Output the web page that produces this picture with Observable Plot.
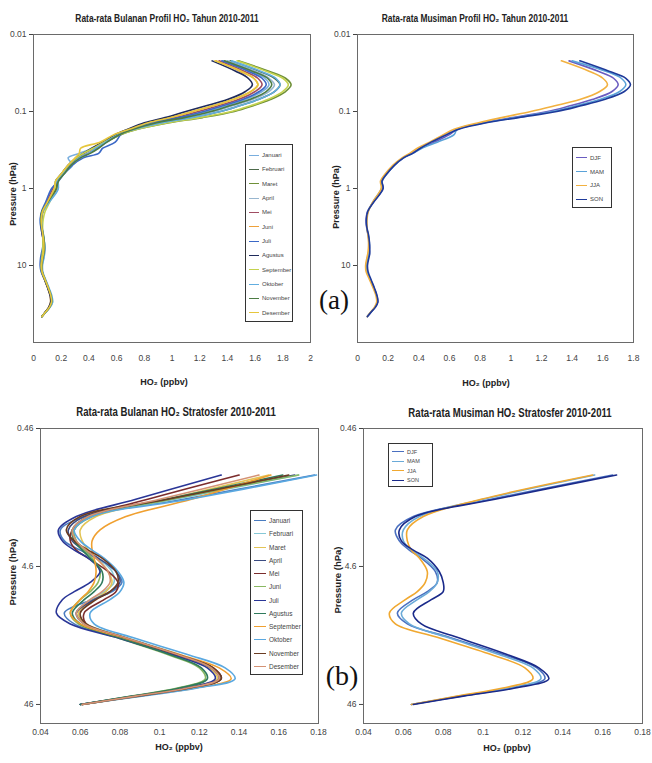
<!DOCTYPE html>
<html>
<head>
<meta charset="utf-8">
<script src="https://cdn.jsdelivr.net/npm/d3@7"></script>
<script src="https://cdn.jsdelivr.net/npm/@observablehq/plot@0.6"></script>
<style>
  html, body { margin: 0; padding: 0; background: #fff; }
  #root { position: relative; width: 652px; height: 763px; background: #fff; overflow: hidden; }
  .t { position: absolute; white-space: nowrap; color: #222; }
  .narrow { font-family: 'Liberation Sans Narrow', 'Arial Narrow', 'Liberation Sans', Arial, sans-serif; }
</style>
</head>
<body>
<div id="root"></div>
<script>
// ---------------- DATA ----------------
const MONTHS = ["Januari","Februari","Maret","April","Mei","Juni","Juli","Agustus","September","Oktober","November","Desember"];
const SEASONS = ["DJF","MAM","JJA","SON"];

// pressure levels (hPa)
const LEV_UPPER = [0.022, 0.03, 0.037, 0.045, 0.055, 0.07, 0.085, 0.1, 0.12, 0.14, 0.17, 0.2, 0.25, 0.3, 0.35, 0.4, 0.5, 0.65, 0.8];
const LEV_STRAT = [1, 1.5, 2, 2.5, 3, 3.5, 4, 5, 6, 7, 8, 10, 12, 15, 20, 25, 30, 35, 40, 46];

// monthly HO2 (ppbv), upper levels (0.022 - 0.8 hPa)
const JAN_UP = [1.37, 1.56, 1.67, 1.70, 1.65, 1.53, 1.39, 1.25, 1.07, 0.88, 0.71, 0.60, 0.51, 0.43, 0.33, 0.25, 0.28, 0.21, 0.18];
const FEB_UP = [1.42, 1.63, 1.74, 1.78, 1.74, 1.62, 1.48, 1.35, 1.14, 0.93, 0.73, 0.62, 0.52, 0.44, 0.37, 0.32, 0.26, 0.21, 0.17];
const MAR_UP = [1.48, 1.70, 1.82, 1.86, 1.82, 1.71, 1.58, 1.45, 1.22, 0.98, 0.75, 0.63, 0.52, 0.44, 0.37, 0.32, 0.26, 0.21, 0.17];
const APR_UP = [1.40, 1.60, 1.70, 1.74, 1.70, 1.58, 1.43, 1.30, 1.10, 0.90, 0.72, 0.61, 0.53, 0.45, 0.38, 0.32, 0.26, 0.21, 0.17];
const MEI_UP = [1.34, 1.52, 1.62, 1.65, 1.60, 1.48, 1.33, 1.19, 1.02, 0.84, 0.70, 0.60, 0.52, 0.46, 0.40, 0.33, 0.27, 0.21, 0.17];
const JUN_UP = [1.32, 1.49, 1.59, 1.62, 1.57, 1.44, 1.29, 1.15, 0.99, 0.83, 0.69, 0.59, 0.50, 0.43, 0.36, 0.31, 0.25, 0.20, 0.17];
const JUL_UP = [1.36, 1.55, 1.65, 1.68, 1.63, 1.51, 1.36, 1.23, 1.05, 0.86, 0.70, 0.63, 0.59, 0.50, 0.47, 0.36, 0.28, 0.22, 0.18];
const AGU_UP = [1.29, 1.46, 1.55, 1.58, 1.53, 1.40, 1.24, 1.10, 0.95, 0.80, 0.68, 0.59, 0.50, 0.42, 0.36, 0.31, 0.25, 0.20, 0.16];
const SEP_UP = [1.47, 1.68, 1.80, 1.84, 1.80, 1.69, 1.56, 1.43, 1.20, 0.97, 0.75, 0.62, 0.51, 0.43, 0.36, 0.31, 0.25, 0.20, 0.16];
const OKT_UP = [1.43, 1.64, 1.75, 1.78, 1.74, 1.62, 1.48, 1.35, 1.14, 0.93, 0.73, 0.61, 0.52, 0.45, 0.40, 0.33, 0.27, 0.21, 0.17];
const NOV_UP = [1.38, 1.58, 1.69, 1.72, 1.68, 1.56, 1.41, 1.28, 1.09, 0.89, 0.72, 0.62, 0.53, 0.47, 0.41, 0.34, 0.27, 0.22, 0.18];
const DES_UP = [1.31, 1.50, 1.59, 1.62, 1.57, 1.44, 1.29, 1.15, 0.99, 0.83, 0.69, 0.58, 0.48, 0.34, 0.33, 0.30, 0.25, 0.20, 0.16];

// monthly HO2 (ppbv), stratosphere (1 - 46 hPa)
const JAN_ST = [0.178, 0.112, 0.062, 0.050, 0.052, 0.060, 0.068, 0.078, 0.081, 0.076, 0.066, 0.052, 0.057, 0.080, 0.109, 0.126, 0.130, 0.114, 0.088, 0.060];
const FEB_ST = [0.170, 0.108, 0.066, 0.057, 0.058, 0.063, 0.069, 0.076, 0.077, 0.072, 0.065, 0.058, 0.063, 0.083, 0.110, 0.127, 0.131, 0.115, 0.089, 0.061];
const MAR_ST = [0.155, 0.104, 0.068, 0.060, 0.061, 0.064, 0.068, 0.074, 0.076, 0.073, 0.067, 0.059, 0.063, 0.082, 0.108, 0.125, 0.129, 0.113, 0.088, 0.061];
const APR_ST = [0.168, 0.105, 0.062, 0.054, 0.056, 0.062, 0.069, 0.078, 0.080, 0.075, 0.067, 0.058, 0.062, 0.081, 0.108, 0.126, 0.130, 0.114, 0.088, 0.060];
const MEI_ST = [0.140, 0.094, 0.064, 0.056, 0.055, 0.058, 0.064, 0.074, 0.079, 0.078, 0.072, 0.062, 0.063, 0.081, 0.108, 0.127, 0.131, 0.115, 0.089, 0.061];
const JUN_ST = [0.170, 0.106, 0.066, 0.057, 0.058, 0.062, 0.066, 0.070, 0.069, 0.065, 0.060, 0.055, 0.059, 0.078, 0.104, 0.120, 0.123, 0.109, 0.086, 0.060];
const JUL_ST = [0.131, 0.088, 0.058, 0.049, 0.051, 0.057, 0.064, 0.070, 0.065, 0.057, 0.051, 0.048, 0.055, 0.078, 0.106, 0.124, 0.128, 0.113, 0.087, 0.060];
const AGU_ST = [0.162, 0.103, 0.064, 0.056, 0.057, 0.061, 0.065, 0.071, 0.071, 0.067, 0.062, 0.056, 0.060, 0.079, 0.105, 0.121, 0.124, 0.110, 0.086, 0.060];
const SEP_ST = [0.156, 0.116, 0.083, 0.070, 0.066, 0.066, 0.067, 0.068, 0.067, 0.064, 0.060, 0.055, 0.060, 0.081, 0.110, 0.130, 0.136, 0.118, 0.090, 0.061];
const OKT_ST = [0.179, 0.115, 0.066, 0.057, 0.060, 0.066, 0.072, 0.079, 0.082, 0.080, 0.075, 0.065, 0.067, 0.086, 0.114, 0.133, 0.138, 0.119, 0.091, 0.061];
const NOV_ST = [0.165, 0.104, 0.060, 0.053, 0.057, 0.064, 0.071, 0.078, 0.079, 0.075, 0.068, 0.060, 0.063, 0.082, 0.109, 0.127, 0.131, 0.115, 0.089, 0.061];
const DES_ST = [0.150, 0.100, 0.064, 0.056, 0.058, 0.063, 0.068, 0.074, 0.075, 0.071, 0.065, 0.058, 0.062, 0.082, 0.109, 0.126, 0.130, 0.114, 0.088, 0.061];

// seasonal HO2 (ppbv), upper levels
const DJF_UP = [1.38, 1.57, 1.67, 1.70, 1.66, 1.53, 1.38, 1.24, 1.01, 0.82, 0.65, 0.60, 0.50, 0.41, 0.35, 0.30, 0.24, 0.19, 0.16];
const MAM_UP = [1.40, 1.62, 1.72, 1.75, 1.71, 1.58, 1.42, 1.27, 1.03, 0.83, 0.65, 0.63, 0.52, 0.42, 0.36, 0.30, 0.24, 0.19, 0.16];
const JJA_UP = [1.33, 1.51, 1.60, 1.63, 1.58, 1.45, 1.28, 1.13, 0.94, 0.79, 0.63, 0.56, 0.47, 0.39, 0.34, 0.29, 0.23, 0.18, 0.15];
const SON_UP = [1.45, 1.64, 1.75, 1.78, 1.74, 1.61, 1.45, 1.30, 1.05, 0.84, 0.66, 0.58, 0.48, 0.41, 0.36, 0.30, 0.24, 0.19, 0.16];

// seasonal HO2 (ppbv), stratosphere
const DJF_ST = [0.165, 0.104, 0.065, 0.056, 0.058, 0.063, 0.069, 0.076, 0.077, 0.072, 0.065, 0.057, 0.062, 0.083, 0.110, 0.127, 0.131, 0.114, 0.089, 0.064];
const MAM_ST = [0.156, 0.100, 0.068, 0.060, 0.060, 0.064, 0.070, 0.077, 0.077, 0.073, 0.067, 0.059, 0.063, 0.082, 0.108, 0.125, 0.129, 0.113, 0.088, 0.064];
const JJA_ST = [0.155, 0.099, 0.070, 0.062, 0.062, 0.064, 0.068, 0.072, 0.071, 0.067, 0.061, 0.053, 0.056, 0.077, 0.104, 0.121, 0.125, 0.110, 0.087, 0.064];
const SON_ST = [0.167, 0.106, 0.066, 0.058, 0.059, 0.065, 0.072, 0.078, 0.080, 0.080, 0.074, 0.065, 0.069, 0.087, 0.112, 0.128, 0.133, 0.116, 0.090, 0.065];

// tick values
const XT_A1 = [0, 0.2, 0.4, 0.6, 0.8, 1, 1.2, 1.4, 1.6, 1.8, 2];
const XT_A2 = [0, 0.2, 0.4, 0.6, 0.8, 1, 1.2, 1.4, 1.6, 1.8];
const YT_A = [0.01, 0.1, 1, 10];
const XT_B = [0.04, 0.06, 0.08, 0.1, 0.12, 0.14, 0.16, 0.18];
const YT_B = [0.46, 4.6, 46];

// titles
const TITLES = [
  "Rata-rata Bulanan Profil HO₂ Tahun 2010-2011",
  "Rata-rata Musiman Profil HO₂ Tahun 2010-2011",
  "Rata-rata Bulanan HO₂ Stratosfer 2010-2011",
  "Rata-rata Musiman HO₂ Stratosfer 2010-2011"
];

// colours
const COL_A_MONTH = ["#79aede","#4d6a4a","#6f9038","#98b6cf","#a04d62","#eea13a","#3b68c6","#1f2b5c","#c4d24e","#62aee0","#4c7c44","#e6c63c"];
const COL_B_MONTH = ["#4a7cc0","#86c8d6","#e3c455","#3b4b82","#7b2c2c","#8ab862","#2a3697","#2f7a5c","#f0a030","#5aa8e0","#6a3c22","#d49274"];
const COL_SEASON_A = ["#6a5cc0","#5aa2d8","#f2b140","#1e3a9a"];
const COL_SEASON_B = ["#4a70c0","#6aaad8","#f0a830","#1a2a8a"];

// ---------------- BUILD ----------------
const MONTH_UP = [JAN_UP,FEB_UP,MAR_UP,APR_UP,MEI_UP,JUN_UP,JUL_UP,AGU_UP,SEP_UP,OKT_UP,NOV_UP,DES_UP];
const MONTH_ST = [JAN_ST,FEB_ST,MAR_ST,APR_ST,MEI_ST,JUN_ST,JUL_ST,AGU_ST,SEP_ST,OKT_ST,NOV_ST,DES_ST];
const SEASON_UP = [DJF_UP,MAM_UP,JJA_UP,SON_UP];
const SEASON_ST = [DJF_ST,MAM_ST,JJA_ST,SON_ST];

function rows(names, up, st) {
  return names.flatMap((s, i) => [
    ...(up ? LEV_UPPER.map((p, j) => ({s, p, v: up[i][j]})) : []),
    ...LEV_STRAT.map((p, j) => ({s, p, v: st[i][j]}))
  ]);
}

const FONT = "'Liberation Sans Narrow', 'Arial Narrow', 'Liberation Sans', Arial, sans-serif";
const root = document.getElementById("root");

function place(node, left, top) {
  const d = document.createElement("div");
  d.style.cssText = `position:absolute;left:${left}px;top:${top}px;`;
  d.append(node);
  root.append(d);
}

function panel({data, names, colors, xDomain, xTicks, yDomain, yTicks, width, height, ml, mr, mt, mb, xpad}) {
  return Plot.plot({
    width, height, marginLeft: ml, marginRight: mr, marginTop: mt, marginBottom: mb,
    style: {background: "transparent", fontFamily: FONT, fontSize: "8.5px", color: "#444", overflow: "visible"},
    x: {domain: xDomain, ticks: xTicks, tickFormat: d => String(d), tickSize: 0, tickPadding: xpad, label: null},
    y: {type: "log", domain: yDomain, reverse: true, ticks: yTicks, tickFormat: d => String(d), tickSize: 4, tickPadding: 3, label: null},
    color: {domain: names, range: colors},
    marks: [
      Plot.frame({stroke: "#6a6a6a"}),
      Plot.line(data, {x: "v", y: "p", z: "s", stroke: "s", curve: "catmull-rom", strokeWidth: 1.6})
    ]
  });
}

// Panel 1: monthly full profile
place(panel({data: rows(MONTHS, MONTH_UP, MONTH_ST), names: MONTHS, colors: COL_A_MONTH,
  xDomain: [0, 2], xTicks: XT_A1, yDomain: [0.01, 100], yTicks: YT_A,
  width: 326, height: 372, ml: 33, mr: 16, mt: 34, mb: 30, xpad: 12}), 0, 0);
// Panel 2: seasonal full profile
place(panel({data: rows(SEASONS, SEASON_UP, SEASON_ST), names: SEASONS, colors: COL_SEASON_A,
  xDomain: [0, 1.8], xTicks: XT_A2, yDomain: [0.01, 100], yTicks: YT_A,
  width: 330, height: 372, ml: 37, mr: 17, mt: 34, mb: 30, xpad: 12}), 320, 0);
// Panel 3: monthly stratosphere
place(panel({data: rows(MONTHS, null, MONTH_ST), names: MONTHS, colors: COL_B_MONTH,
  xDomain: [0.04, 0.18], xTicks: XT_B, yDomain: [0.46, 63.2], yTicks: YT_B,
  width: 326, height: 365, ml: 40, mr: 8, mt: 48, mb: 22, xpad: 5}), 0, 380);
// Panel 4: seasonal stratosphere
place(panel({data: rows(SEASONS, null, SEASON_ST), names: SEASONS, colors: COL_SEASON_B,
  xDomain: [0.04, 0.18], xTicks: XT_B, yDomain: [0.46, 63.2], yTicks: YT_B,
  width: 326, height: 365, ml: 37, mr: 10, mt: 48, mb: 22, xpad: 5}), 326, 380);

// ---------------- TEXT ----------------
function text(str, cx, cy, css, rotate, sx) {
  const e = document.createElement("div");
  e.className = "t narrow";
  e.textContent = str;
  const tf = `translate(-50%,-50%)` + (rotate ? ` rotate(-90deg)` : "") + (sx ? ` scaleX(${sx})` : "");
  e.style.cssText = `left:${cx}px;top:${cy}px;transform:${tf};${css}`;
  root.append(e);
}
text(TITLES[0], 167, 18, "font-size:10.5px;font-weight:bold;", false, 0.8);
text(TITLES[1], 475, 18, "font-size:10.5px;font-weight:bold;", false, 0.8);
text(TITLES[2], 176, 412, "font-size:12px;font-weight:bold;", false, 0.8);
text(TITLES[3], 510, 413, "font-size:12px;font-weight:bold;", false, 0.8);
text("HO₂ (ppbv)", 164, 382, "font-size:9px;font-weight:bold;");
text("HO₂ (ppbv)", 486, 383, "font-size:9px;font-weight:bold;");
text("HO₂ (ppbv)", 179, 747, "font-size:9px;font-weight:bold;");
text("HO₂ (ppbv)", 507, 748, "font-size:9px;font-weight:bold;");
text("Pressure (hPa)", 13, 194, "font-size:9px;font-weight:bold;", true);
text("Pressure (hPa)", 336, 197, "font-size:9px;font-weight:bold;", true);
text("Pressure (hPa)", 12, 572, "font-size:9.5px;font-weight:bold;", true);
text("Pressure (hPa)", 337, 580, "font-size:9.5px;font-weight:bold;", true);
text("(a)", 334, 300, "font-size:27px;font-family:'Liberation Serif','DejaVu Serif',serif;color:#111;");
text("(b)", 342, 676, "font-size:28px;font-family:'Liberation Serif','DejaVu Serif',serif;color:#111;");

// ---------------- LEGENDS ----------------
function legend(x, y, w, h, names, colors, fs, lineW) {
  const box = document.createElement("div");
  box.style.cssText = `position:absolute;left:${x}px;top:${y}px;width:${w}px;height:${h}px;border:1px solid #333;box-sizing:border-box;background:#fff;overflow:hidden;`;
  const rowH = (h - 6) / names.length;
  names.forEach((n, i) => {
    const row = document.createElement("div");
    row.style.cssText = `position:absolute;left:3px;top:${3 + i * rowH}px;height:${rowH}px;display:flex;align-items:center;white-space:nowrap;font-size:${fs}px;font-family:${FONT};color:#444;`;
    const ln = document.createElement("span");
    ln.style.cssText = `display:inline-block;width:${lineW}px;height:0;border-top:1.5px solid ${colors[i]};margin-right:3px;`;
    row.append(ln, document.createTextNode(n));
    box.append(row);
  });
  root.append(box);
}
legend(245, 144, 48, 178, MONTHS, COL_A_MONTH, 6, 10);
legend(572, 147, 40, 61, SEASONS, COL_SEASON_A, 6, 11);
legend(250, 510, 53, 165, MONTHS, COL_B_MONTH, 6.5, 12);
legend(388, 443, 45, 44, SEASONS, COL_SEASON_B, 5.5, 12);
</script>
</body>
</html>
